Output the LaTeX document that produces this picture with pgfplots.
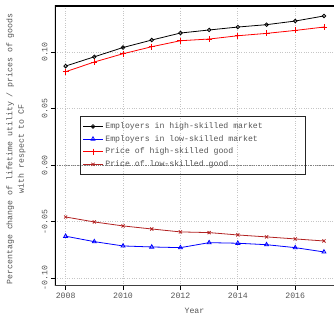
\documentclass[border=0pt]{standalone}
\usepackage{fontspec}
\setmainfont{Liberation Mono}
\setmonofont{Liberation Mono}
\usepackage{pgfplots}
\pgfplotsset{compat=1.18}
\usetikzlibrary{calc}

\definecolor{txtgray}{HTML}{555555}
\definecolor{lowgood}{HTML}{B22222}
\newcommand\chartfont{\fontsize{8.2bp}{10bp}\selectfont\color{txtgray}}

\begin{document}
\begin{tikzpicture}
\begin{axis}[
  name=ax,
  scale only axis,
  width=279bp, height=280bp,
  xmin=2007.63, xmax=2017.35,
  ymin=-0.1068, ymax=0.1407,
  xtick={2008,2010,2012,2014,2016},
  ytick={-0.10,-0.05,0,0.05,0.10},
  /pgf/number format/assume math mode=true,
  xticklabel style={font=\chartfont, /pgf/number format/1000 sep={}},
  yticklabel style={font=\chartfont, rotate=90,
    /pgf/number format/.cd, fixed, fixed zerofill, precision=2},
  tick align=outside, tick pos=left,
  major tick length=4bp,
  every tick/.style={black, line width=1pt},
  grid=major,
  grid style={dotted, gray!45, line width=0.7pt},
  axis line style={draw=none},
  xlabel={Year},
  xlabel style={font=\chartfont, yshift=-2bp},
  ylabel={Percentage change of lifetime utility / prices of goods\\with respect to CF},
  every axis y label/.style={at={(axis description cs:-0.14,0.49)},
    rotate=90, anchor=center, align=center,
    font=\fontsize{8.2bp}{11.5bp}\selectfont\color{txtgray}},
  legend style={at={(0.09,0.608)}, anchor=north west, draw=black!85,
    line width=1pt, fill=none, font=\chartfont,
    inner xsep=2bp, inner ysep=4.5bp, row sep=1.2bp},
  legend cell align=left,
  legend image code/.code={\draw[mark repeat=2, mark phase=2]
    plot coordinates {(0bp,0bp) (10bp,0bp) (20bp,0bp)};},
]
% horizontal reference at zero
\addplot[gray, densely dotted, line width=0.8pt, forget plot] coordinates {(2007.63,0) (2017.35,0)};

\addplot[black, line width=0.8pt, mark=o, mark size=1.8pt, mark options={line width=0.8pt}] coordinates {
(2008,0.0876) (2009,0.0958) (2010,0.1040) (2011,0.1106) (2012,0.1168)
(2013,0.1195) (2014,0.1221) (2015,0.1242) (2016,0.1274) (2017,0.1319)};
\addlegendentry{\makebox[196bp][l]{Employers in high-skilled market}}

\addplot[blue, line width=0.8pt, mark=triangle, mark size=2.3pt, mark options={line width=0.8pt}] coordinates {
(2008,-0.0628) (2009,-0.0676) (2010,-0.0714) (2011,-0.0723) (2012,-0.0729)
(2013,-0.0685) (2014,-0.0690) (2015,-0.0703) (2016,-0.0729) (2017,-0.0767)};
\addlegendentry{Employers in low-skilled market}

\addplot[red, line width=0.8pt, mark=+, mark size=3pt, mark options={line width=0.8pt}] coordinates {
(2008,0.0826) (2009,0.0912) (2010,0.0985) (2011,0.1047) (2012,0.1100)
(2013,0.1115) (2014,0.1144) (2015,0.1165) (2016,0.1191) (2017,0.1221)};
\addlegendentry{Price of high-skilled good}

\addplot[lowgood, line width=0.8pt, mark=x, mark size=2.2pt, mark options={line width=0.8pt}] coordinates {
(2008,-0.0458) (2009,-0.0502) (2010,-0.0537) (2011,-0.0564) (2012,-0.0590)
(2013,-0.0596) (2014,-0.0617) (2015,-0.0634) (2016,-0.0652) (2017,-0.0670)};
\addlegendentry{Price of low-skilled good}

% frame: left and top in black, bottom in dark grey
\draw[black, line width=1.2pt] (rel axis cs:0,0) -- (rel axis cs:0,1) -- (rel axis cs:1,1);
\draw[black!75, line width=1.8pt] (rel axis cs:0,0) -- (rel axis cs:1,0);
\end{axis}
\pgfresetboundingbox
\path[use as bounding box] ($(ax.south west)+(-55bp,-40bp)$) rectangle ($(ax.north east)+(0,6bp)$);
\end{tikzpicture}
\end{document}
